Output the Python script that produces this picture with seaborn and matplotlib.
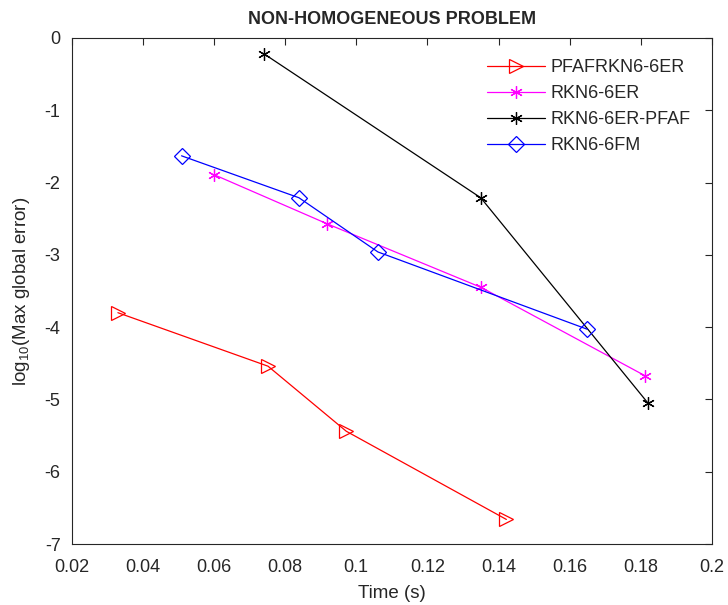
import matplotlib
matplotlib.use("Agg")
import matplotlib.pyplot as plt
import matplotlib.ticker as mticker
import numpy as np
import seaborn as sns

# data
pfaf_t = [0.033, 0.0752, 0.0972, 0.1422]
pfaf_err = [-3.80, -4.54, -5.44, -6.66]

rkn_er_t = [0.0600, 0.0918, 0.1351, 0.1811]
rkn_er_err = [-1.89, -2.57, -3.45, -4.67]

rkn_pfaf_t = [0.0741, 0.1350, 0.1820]
rkn_pfaf_err = [-0.22, -2.21, -5.05]

rkn_fm_t = [0.0509, 0.0839, 0.1061, 0.1650]
rkn_fm_err = [-1.63, -2.21, -2.96, -4.03]

series = [
    ("PFAFRKN6-6ER", pfaf_t, pfaf_err, "#ff0000", ">", 10, "none"),
    ("RKN6-6ER", rkn_er_t, rkn_er_err, "#ff00ff", (6, 2, 0), 9, None),
    ("RKN6-6ER-PFAF", rkn_pfaf_t, rkn_pfaf_err, "#000000", (6, 2, 0), 9, None),
    ("RKN6-6FM", rkn_fm_t, rkn_fm_err, "#0000ff", "D", 8, "none"),
]

sns.set_style("white")
plt.rcParams["font.family"] = ["Liberation Sans", "DejaVu Sans"]
plt.rcParams["mathtext.fontset"] = "custom"
plt.rcParams["mathtext.rm"] = "Liberation Sans"

fig = plt.figure(figsize=(7.28, 6.05), dpi=100)
ax = fig.add_axes([0.0984, 0.1008, 0.8796, 0.8364])

for name, t, err, col, mk, ms, mfc in series:
    kw = dict(marker=mk, markersize=ms, markeredgecolor=col, markeredgewidth=0.9)
    if mfc is not None:
        kw["markerfacecolor"] = mfc
    sns.lineplot(x=t, y=err, color=col, linewidth=0.9, label=name, ax=ax, **kw)

ax.set_xlim(0.02, 0.2)
ax.set_ylim(-7, 0)
ax.set_xticks(np.arange(0.02, 0.2001, 0.02))
ax.set_yticks(np.arange(-7, 0.5, 1))
ax.xaxis.set_major_formatter(mticker.FormatStrFormatter("%g"))
ax.yaxis.set_major_formatter(mticker.FormatStrFormatter("%g"))
ax.tick_params(direction="in", length=5, width=0.8, labelsize=13, colors="#262626",
               top=True, right=True)
ax.tick_params(axis="x", pad=11)
ax.tick_params(axis="y", pad=8)
for sp in ax.spines.values():
    sp.set_visible(True)
    sp.set_color("#262626")
    sp.set_linewidth(0.8)

ax.set_xlabel("Time (s)", fontsize=13.5, color="#262626", labelpad=6)
ax.set_ylabel(r"log$_{10}$(Max global error)", fontsize=13.5, color="#262626", labelpad=9)
ax.set_title("NON-HOMOGENEOUS PROBLEM", fontsize=13, fontweight="bold", pad=10)

ax.legend(loc="upper left", bbox_to_anchor=(0.623, 0.99), frameon=False,
          fontsize=13, handlelength=3.2, labelspacing=0.5, handletextpad=0.3)

fig.savefig("out.png", dpi=100)
